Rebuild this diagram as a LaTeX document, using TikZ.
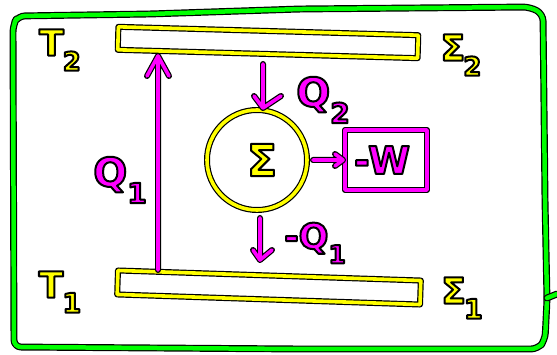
\documentclass[tikz,border=0pt]{standalone}
\usepackage{fontspec}
\setmainfont{DejaVu Sans}
\usetikzlibrary{calc}
\definecolor{yl}{RGB}{255,255,0}
\definecolor{mg}{RGB}{255,0,255}
\definecolor{gr}{RGB}{0,255,0}
\newcommand\sbx[2]{\raisebox{-0.42em}{\fontsize{#1}{#1}\selectfont #2}}
\newcommand\outl[1]{\special{pdf:literal direct 0 0 0 RG 2 Tr 2 w 1 j}#1\special{pdf:literal direct 0 Tr}}
\begin{document}
\begin{tikzpicture}[x=1pt,y=-1pt,
  outl/.style={draw=black, line width=1.2pt, double distance=3.6pt, line join=round, line cap=round},
  yel/.style={outl, double=yl},
  mag/.style={outl, double=mg},
  grn/.style={outl, double=gr, double distance=4.5pt},
  ytxt/.style={text=yl, inner sep=0pt},
  mtxt/.style={text=mg, inner sep=0pt}]
\useasboundingbox (0,0) rectangle (557,355);
\fill[white] (0,0) rectangle (557,355);
% frame
\draw[grn, rounded corners=7pt] (14,347) -- (13,25) -- (18,16) -- (150,14) -- (300,9) -- (530,7) -- (543,14) -- (545,200) -- (547,300) -- (545,340) -- (538,349) -- (300,349) -- cycle;
\draw[grn] (547,298) -- (557,294);
% reservoirs
\node[yel, rectangle, minimum width=300pt, minimum height=23pt, rotate=-1.6] (top) at (268,42.5) {};
\node[yel, rectangle, minimum width=303pt, minimum height=24pt, rotate=-1.9] (bot) at (269,287.5) {};
% system
\node[yel, circle, minimum size=100pt] (sys) at (257,160) {};
\node[ytxt, font=\bfseries\fontsize{44}{44}\selectfont] (sig) at (262,160) {\outl{Σ}};
% work box
\node[mag, rectangle, minimum width=82pt, minimum height=60pt] (w) at (386,160) {};
\node[mtxt, font=\bfseries\fontsize{38}{38}\selectfont] (wl) at (382,160) {\outl{-W}};
% labels
\node[ytxt, font=\bfseries\fontsize{36}{36}\selectfont] (t2) at (60,50) {\outl{T\kern-1pt\sbx{26}{2}}};
\node[ytxt, font=\bfseries\fontsize{36}{36}\selectfont] (s2) at (461,55) {\outl{Σ\kern-2pt\sbx{26}{2}}};
\node[ytxt, font=\bfseries\fontsize{36}{36}\selectfont] (t1) at (60,292) {\outl{T\kern-1pt\sbx{27}{1}}};
\node[ytxt, font=\bfseries\fontsize{36}{36}\selectfont] (s1) at (462,298) {\outl{Σ\kern-2pt\sbx{27}{1}}};
\node[mtxt, font=\bfseries\fontsize{40}{40}\selectfont] (q1) at (120,180) {\outl{Q\sbx{28}{1}}};
\node[mtxt, font=\bfseries\fontsize{40}{40}\selectfont] (q2) at (323,100) {\outl{Q\sbx{28}{2}}};
\node[mtxt, font=\bfseries\fontsize{35}{35}\selectfont] (mq1) at (315,243) {\outl{-Q\sbx{25}{1}}};
% arrows
\coordinate (a1s) at (158,270);
\coordinate (a1e) at (158,56);
\draw[mag] (a1s) -- (a1e) ($(a1e)+(-11,20)$) -- (a1e) -- ($(a1e)+(11,20)$);
\coordinate (a2s) at (263,64);
\coordinate (a2e) at (263,108);
\draw[mag] (a2s) -- (a2e) ($(a2e)+(-9,-12)$) -- (a2e) -- ($(a2e)+(18,-12)$);
\coordinate (a3s) at (313,160);
\coordinate (a3e) at (343,160);
\draw[mag] (a3s) -- (a3e) ($(a3e)+(-8,-6)$) -- (a3e) -- ($(a3e)+(-8,6)$);
\coordinate (a4s) at (260,218);
\coordinate (a4e) at (260,260);
\draw[mag] (a4s) -- (a4e) ($(a4e)+(-7,-10)$) -- (a4e) -- ($(a4e)+(12,-10)$);
\end{tikzpicture}
\end{document}
